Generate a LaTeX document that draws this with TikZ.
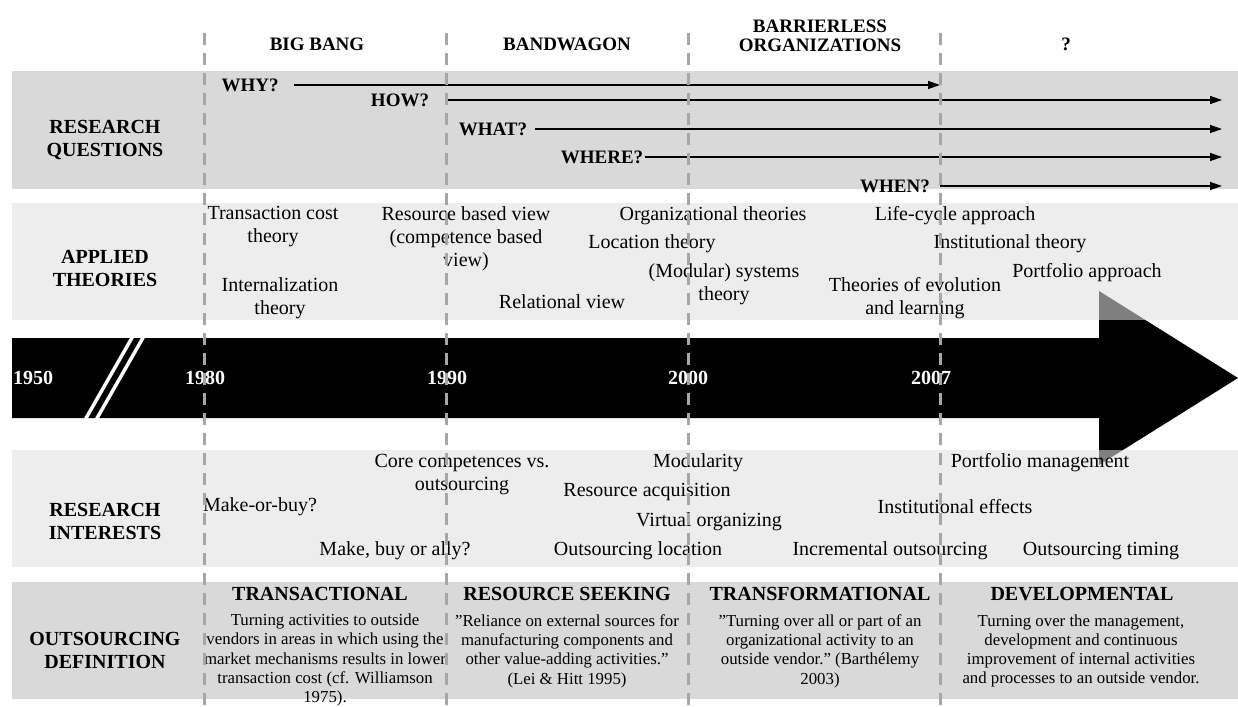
\documentclass[tikz,border=0pt]{standalone}
\usepackage{fontspec}
\setmainfont{Liberation Serif}
\usetikzlibrary{arrows.meta}
\usetikzlibrary{positioning}
\tikzset{
darkband/.style={ % Sets the properties of the dark rows
fill=black!15},
lightband/.style={ % Light rows, let the arrow shine through
fill=black!12,
fill opacity=0.57},
divider/.style={ % Dashed lines between the eras
draw=black!35,
line width=3pt,
dash pattern=on 12pt off 8pt},
rowlabel/.style={ % Labels on the left
align=center,
font=\fontsize{20}{23}\selectfont\bfseries},
era/.style={ % Titles above the eras
align=center,
font=\fontsize{19}{21}\selectfont\bfseries},
question/.style={ % Question words
inner sep=0pt,
font=\fontsize{19}{21}\selectfont\bfseries},
qline/.style={ % Arrows of the questions
draw,
line width=1.3pt,
-{Triangle[length=12pt,width=8pt]}},
item/.style={ % Theories and interests
align=center,
inner sep=0pt,
font=\fontsize{20}{23}\selectfont},
year/.style={ % Years on the black arrow
text=white,
inner sep=0pt,
font=\fontsize{20}{23}\selectfont\bfseries},
defhead/.style={ % Names of the definitions
inner sep=0pt,
font=\fontsize{20}{23}\selectfont\bfseries},
deftext/.style={ % Texts of the definitions
align=center,
inner sep=0pt,
font=\fontsize{16.8}{19.3}\selectfont}}

\begin{document}
\begin{tikzpicture}[x=1pt,y=-1pt]
\useasboundingbox (0,0) rectangle (1238,706);
% eras borders
\coordinate (c1980) at (204,0);
\coordinate (c1990) at (446,0);
\coordinate (c2000) at (688,0);
\coordinate (c2007) at (940,0);
\coordinate (qend) at (1222,0);
% timeline arrow
\fill (12,338) -- (1099,338) -- (1099,291) -- (1238,378) -- (1099,465) -- (1099,418) -- (12,418) -- cycle;
\draw[white,line width=3.5pt] (85,420) -- (133,336);
\draw[white,line width=3.5pt] (96,420) -- (144,336);
% rows
\fill[darkband] (12,71) rectangle (1238,189);
\fill[lightband] (12,203) rectangle (1238,320);
\fill[lightband] (12,450) rectangle (1238,567);
\fill[darkband] (12,582) rectangle (1238,699);
\node[rowlabel] (rq) at (105,140) {RESEARCH\\QUESTIONS};
\node[rowlabel] (at) at (105,268) {APPLIED\\THEORIES};
\node[rowlabel] (ri) at (105,521) {RESEARCH\\INTERESTS};
\node[rowlabel] (od) at (105,650) {OUTSOURCING\\DEFINITION};
\node[era] (bigbang) at (317,44) {BIG BANG};
\node[era] (bandwagon) at (567,44) {BANDWAGON};
\node[era] (barrierless) at (820,36) {BARRIERLESS\\[-2pt]ORGANIZATIONS};
\node[era] (unknown) at (1066,44) {?};
% questions
\node[question] (why) at (250,85) {WHY?};
\node[question] (how) at (400,100) {HOW?};
\node[question] (what) at (493,129) {WHAT?};
\node[question] (where) at (602,157) {WHERE?};
\node[question] (when) at (895,186) {WHEN?};
\draw[qline] ([xshift=15pt]why.east) -- (c2007 |- why);
\draw[qline] (c1990 |- how) -- (qend |- how);
\draw[qline] ([xshift=8pt]what.east) -- (qend |- what);
\draw[qline] ([xshift=2pt]where.east) -- (qend |- where);
\draw[qline] (c2007 |- when) -- (qend |- when);
% theories
\node[item] (tct) at (273,227) {Transaction cost\\theory};
\node[item] (int) at (280,298) {Internalization\\theory};
\node[item] (rbv) at (466,239) {Resource based view\\(competence based\\view)};
\node[item] (rel) at (562,302) {Relational view};
\node[item] (org) at (713,216) {Organizational theories};
\node[item] (loc) at (652,244) {Location theory};
\node[item] (mod) at (724,284) {(Modular) systems\\theory};
\node[item] (lca) at (955,216) {Life-cycle approach};
\node[item] (ins) at (1010,244) {Institutional theory};
\node[item] (por) at (1087,273) {Portfolio approach};
\node[item] (evo) at (915,298) {Theories of evolution\\and learning};
% years
\node[year] (y1950) at (33,378) {1950};
\node[year] (y1980) at (205,378) {1980};
\node[year] (y1990) at (447,378) {1990};
\node[year] (y2000) at (688,378) {2000};
\node[year] (y2007) at (931,378) {2007};
% interests
\node[item] (core) at (462,475) {Core competences vs.\\outsourcing};
\node[item] (mob) at (260,507) {Make-or-buy?};
\node[item] (mba) at (395,551) {Make, buy or ally?};
\node[item] (mdl) at (698,463) {Modularity};
\node[item] (acq) at (647,492) {Resource acquisition};
\node[item] (vir) at (709,522) {Virtual organizing};
\node[item] (oloc) at (638,551) {Outsourcing location};
\node[item] (pm) at (1040,463) {Portfolio management};
\node[item] (ie) at (955,507) {Institutional effects};
\node[item] (inc) at (890,551) {Incremental outsourcing};
\node[item] (ot) at (1101,551) {Outsourcing timing};
% definitions
\node[defhead] (trh) at (320,594) {TRANSACTIONAL};
\node[defhead] (rsh) at (567,594) {RESOURCE SEEKING};
\node[defhead] (tfh) at (820,594) {TRANSFORMATIONAL};
\node[defhead] (dvh) at (1082,594) {DEVELOPMENTAL};
\node[deftext] (trt) at (325,660) {Turning activities to outside\\vendors in areas in which using the\\market mechanisms results in lower\\transaction cost (cf. Williamson\\1975).};
\node[deftext] (rst) at (567,651) {"Reliance on external sources for\\manufacturing components and\\other value-adding activities."\\(Lei \& Hitt 1995)};
\node[deftext] (tft) at (820,651) {"Turning over all or part of an\\organizational activity to an\\outside vendor." (Barthélemy\\2003)};
\node[deftext] (dvt) at (1081,651) {Turning over the management,\\development and continuous\\improvement of internal activities\\and processes to an outside vendor.};
% dividers on top
\foreach \c in {c1980,c1990,c2000,c2007}
  \draw[divider] (\c |- 0,33) -- (\c |- 0,706);
\end{tikzpicture}
\end{document}
